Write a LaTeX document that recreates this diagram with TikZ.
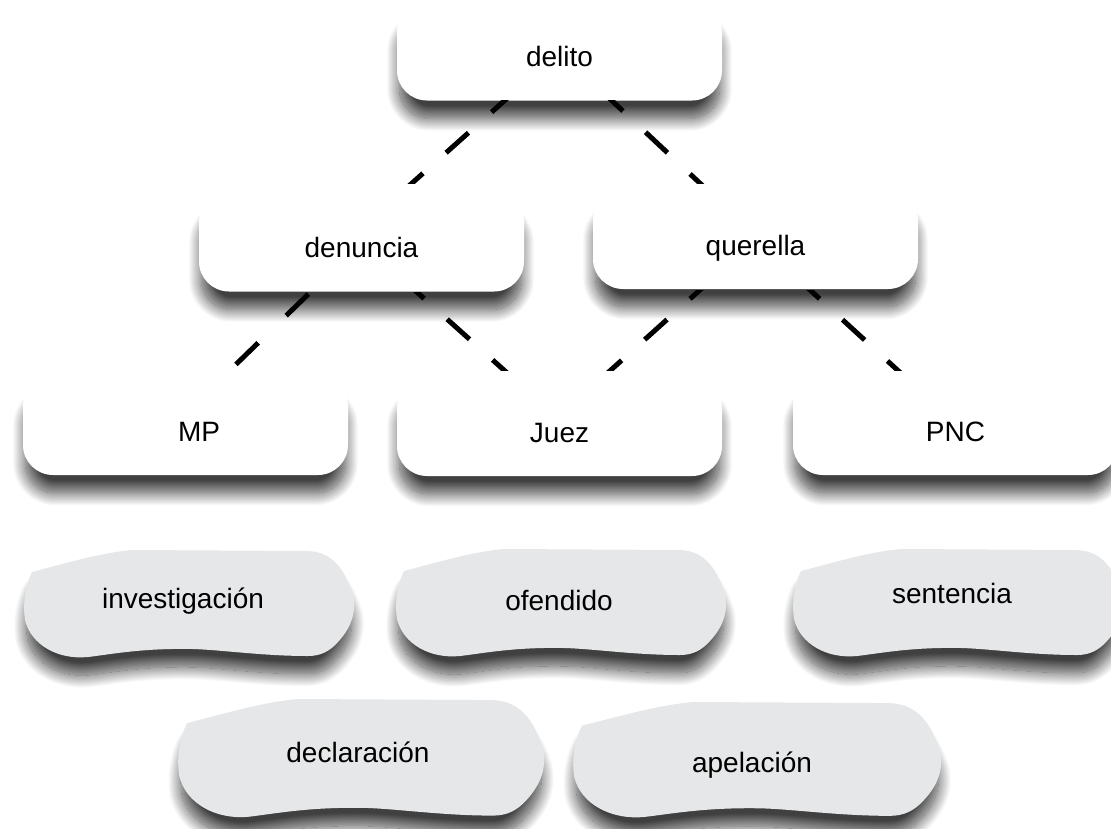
\documentclass[tikz,border=0pt]{standalone}
\usepackage{fontspec}
\setmainfont{Liberation Sans}
\usetikzlibrary{shadows.blur}
\definecolor{blobgray}{HTML}{E6E7E8}
\begin{document}
\begin{tikzpicture}[x=1pt,y=-1pt,
  sh/.style={blur shadow={shadow xshift=0pt,shadow yshift=-19pt,shadow blur radius=13pt,shadow blur steps=24,shadow opacity=75,shadow scale=0.985}},
  box/.style={sh,fill=white,rounded corners=30pt,minimum width=325pt,minimum height=98pt,inner sep=0pt,text height=30pt,text depth=0pt,font=\fontsize{28}{32}\selectfont},
  blobtext/.style={anchor=base,inner sep=0pt,font=\fontsize{28}{32}\selectfont},
  conn/.style={line width=5pt,dash pattern=on 30pt off 31pt},
  blobshape/.pic={
    \fill[blobgray,sh] (9,22) .. controls (40,14) and (80,2) .. (110,0) -- (285,1)
      .. controls (310,2) and (322,20) .. (330,45)
      .. controls (334,65) and (326,80) .. (315,92)
      .. controls (307,101) and (298,106) .. (285,106)
      .. controls (240,106) and (200,100) .. (170,99)
      .. controls (120,98) and (90,104) .. (65,107)
      .. controls (35,110) and (8,95) .. (2,70)
      .. controls (-1,50) and (4,32) .. (9,22) -- cycle;
  }
]
\useasboundingbox (0,0) rectangle (1111,828);

% boxes
\node[box] (delito)   at (559.5,51.5) {delito};
\node[box] (denuncia) at (361.5,242.5) {denuncia};
\node[box] (querella) at (755.5,240) {querella};
\node[box] (MP)       at (185.5,426) {\hspace*{27pt}MP};
\node[box] (Juez)     at (559.5,427) {Juez};
\node[box] (PNC)      at (955.5,426) {PNC};

% connectors (visible only between the boxes)
\begin{scope}
  \clip (0,100) rectangle (1111,183);
  \draw[conn,dash phase=0pt] (delito.center) -- ([xshift=-16pt]denuncia.center);
  \draw[conn,dash phase=4pt] (delito.center) -- ([xshift=5pt]querella.center);
\end{scope}
\begin{scope}
  \clip (0,292) rectangle (1111,370);
  \draw[conn,dash pattern=on 31pt off 39pt,dash phase=66pt] (denuncia.center) -- ([xshift=-13pt]MP.center);
  \draw[conn,dash phase=7pt] (denuncia.center) -- ([xshift=8pt]Juez.center);
\end{scope}
\begin{scope}
  \clip (0,290) rectangle (1111,370);
  \draw[conn,dash phase=3pt] (querella.center) -- ([xshift=-12pt]Juez.center);
  \draw[conn,dash phase=4pt] (querella.center) -- ([xshift=3pt]PNC.center);
\end{scope}

% blobs
\pic at (23,550) {blobshape};
\pic at (395,549) {blobshape};
\pic at (792,549) {blobshape};
\pic[xscale=1.109,yscale=1.1] at (177,699) {blobshape};
\pic[xscale=1.115,yscale=1.074] at (572,702) {blobshape};

\node[blobtext] (investigacion) at (183,608) {investigación};
\node[blobtext] (ofendido) at (559,610) {ofendido};
\node[blobtext] (sentencia) at (952,603) {sentencia};
\node[blobtext] (declaracion) at (358,762) {declaración};
\node[blobtext] (apelacion) at (752,772) {apelación};
\end{tikzpicture}
\end{document}
